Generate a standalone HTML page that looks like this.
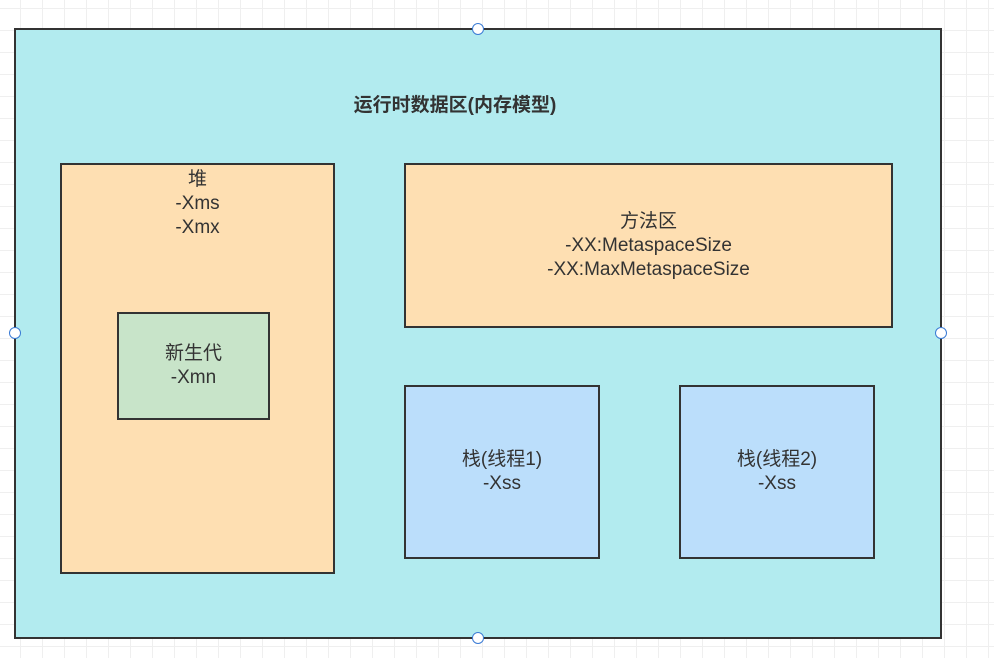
<!DOCTYPE html>
<html><head><meta charset="utf-8"><style>
html,body{margin:0;padding:0;width:994px;height:658px;overflow:hidden;background:#fff;
background-image:linear-gradient(#efefef 1px,transparent 1px),linear-gradient(90deg,#efefef 1px,transparent 1px);
background-size:22px 22px;background-position:-2px 8px;font-family:"Liberation Sans","Noto Sans CJK SC",sans-serif;color:#333}
.b{position:absolute;box-sizing:border-box;border:2.5px solid #333;display:flex;flex-direction:column;align-items:center;justify-content:center;text-align:center;font-size:19px;line-height:24px}
.h{position:absolute;width:12px;height:12px;border-radius:50%;background:#fff;border:1px solid #3a7bd5;box-sizing:border-box}
</style></head><body>
<div class="b" style="left:14px;top:28px;width:928px;height:611px;background:#b2ebef;border-width:2.5px"></div>
<div style="position:absolute;left:330px;top:90px;width:250px;text-align:center;font-weight:bold;font-size:19px;color:#333">运行时数据区(内存模型)</div>
<div class="b" style="left:60px;top:163px;width:275px;height:411px;background:#fedfb2;justify-content:flex-start;padding-top:3px">堆<br>-Xms<br>-Xmx</div>
<div class="b" style="left:117px;top:312px;width:153px;height:108px;background:#c8e4c9">新生代<br>-Xmn</div>
<div class="b" style="left:404px;top:163px;width:489px;height:165px;background:#fedfb2">方法区<br>-XX:MetaspaceSize<br>-XX:MaxMetaspaceSize</div>
<div class="b" style="left:404px;top:385px;width:196px;height:174px;background:#bbdefb">栈(线程1)<br>-Xss</div>
<div class="b" style="left:679px;top:385px;width:196px;height:174px;background:#bbdefb">栈(线程2)<br>-Xss</div>
<div class="h" style="left:472px;top:23px"></div>
<div class="h" style="left:9px;top:327px"></div>
<div class="h" style="left:935px;top:327px"></div>
<div class="h" style="left:472px;top:632px"></div>
</body></html>
